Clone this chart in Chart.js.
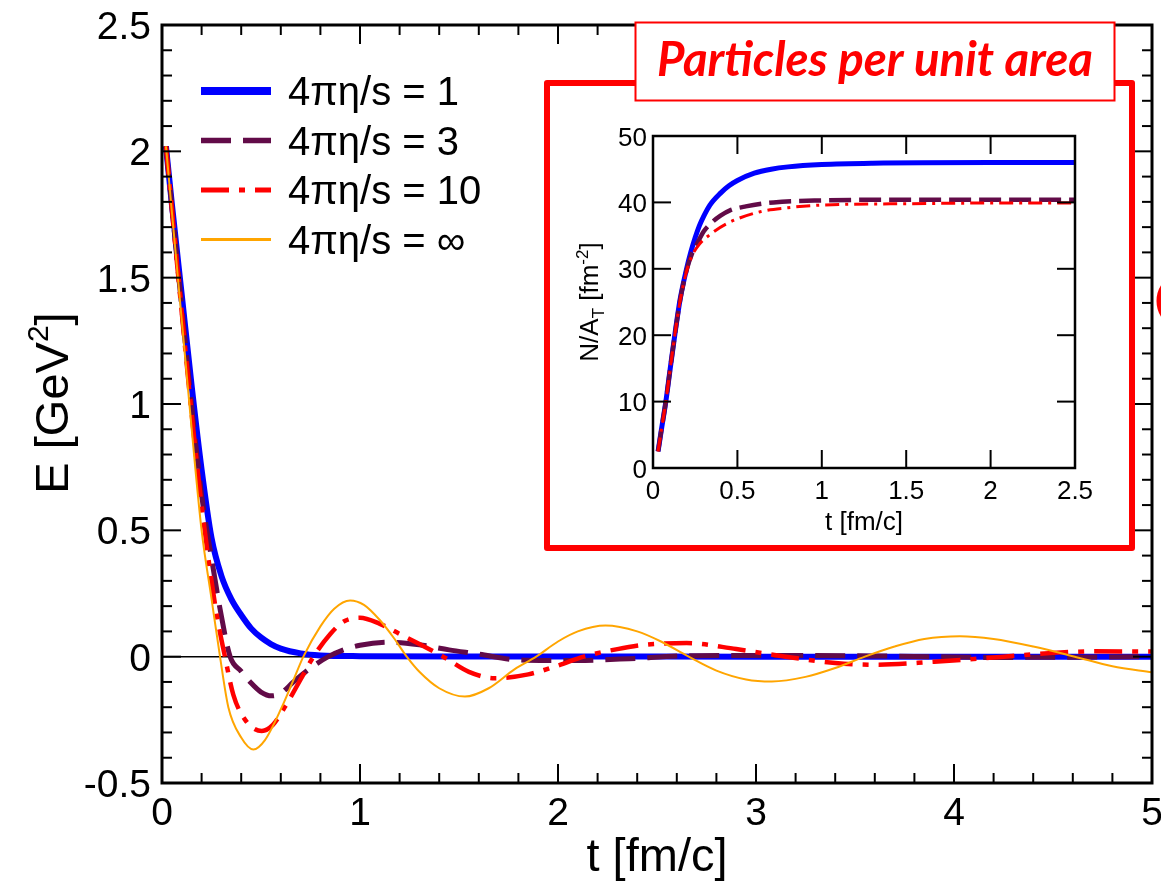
<!DOCTYPE html>
<html>
<head>
<meta charset="utf-8">
<script src="https://cdn.jsdelivr.net/npm/chart.js@4.4.1/dist/chart.umd.min.js"></script>
<style>
html,body{margin:0;padding:0;background:#fff;}
#wrap{position:relative;width:1161px;height:881px;overflow:hidden;}
#wrap canvas{position:absolute;left:0;top:0;}
</style>
</head>
<body>
<div id="wrap">
<canvas id="main" width="1161" height="881"></canvas>
<canvas id="inset" width="1161" height="881"></canvas>
</div>
<script>
// ---------------- data ----------------
const seriesLabels = ['4πη/s = 1', '4πη/s = 3', '4πη/s = 10', '4πη/s = ∞'];

// main panel: E [GeV^2] vs t [fm/c]
const tEta1 = [0.02,0.05,0.1,0.15,0.2,0.25,0.3,0.35,0.4,0.45,0.5,0.55,0.6,0.7,0.8,1.0,1.5,2.0,3.0,4.0,5.0];
const eEta1 = [2.02,1.79,1.43,1.07,0.74,0.47,0.32,0.228,0.165,0.112,0.076,0.05,0.032,0.013,0.005,0.002,0.001,0.001,0.0,0.0,0.0];

const tEta3 = [0.02,0.05,0.1,0.15,0.2,0.25,0.3,0.344,0.4,0.445,0.5,0.554,0.6,0.664,0.75,0.84,0.92,1.0,1.15,1.3,1.45,1.6,1.77,1.95,2.1,2.36,2.61,2.86,3.2,3.7,4.2,4.6,5.0];
const eEta3 = [2.02,1.78,1.38,0.99,0.64,0.39,0.16,0,-0.058,-0.1,-0.14,-0.155,-0.145,-0.1,-0.045,0,0.028,0.045,0.057,0.047,0.027,0.01,-0.011,-0.015,-0.015,-0.008,0.003,0.005,0.005,0.002,-0.003,-0.002,0];

const tEta10 = [0.02,0.05,0.1,0.15,0.2,0.25,0.28,0.318,0.36,0.42,0.504,0.56,0.62,0.7,0.765,0.85,0.92,1.0,1.1,1.2,1.3,1.42,1.55,1.68,1.85,2.0,2.13,2.3,2.45,2.65,2.9,3.15,3.4,3.61,3.9,4.25,4.5,4.71,5.0];
const eEta10 = [2.02,1.77,1.36,0.96,0.6,0.3,0.15,0,-0.15,-0.25,-0.294,-0.27,-0.2,-0.09,0,0.09,0.14,0.154,0.13,0.09,0.05,0,-0.06,-0.085,-0.07,-0.035,0,0.03,0.048,0.054,0.03,0,-0.025,-0.032,-0.02,0,0.015,0.021,0.02];

const tEtaInf = [0.02,0.05,0.1,0.15,0.2,0.25,0.293,0.335,0.4,0.461,0.52,0.605,0.66,0.714,0.8,0.87,0.95,1.02,1.1,1.17,1.236,1.3,1.4,1.53,1.65,1.78,1.89,2.0,2.1,2.24,2.4,2.52,2.66,2.8,2.95,3.08,3.25,3.4,3.55,3.7,3.85,4.03,4.2,4.4,4.61,4.8,5.0];
const eEtaInf = [2.02,1.76,1.33,0.9,0.5,0.23,0,-0.2,-0.32,-0.367,-0.33,-0.2,-0.1,0,0.12,0.19,0.2225,0.205,0.145,0.075,0,-0.06,-0.125,-0.158,-0.125,-0.05,0,0.06,0.1,0.123,0.1,0.06,0,-0.055,-0.09,-0.098,-0.08,-0.045,0,0.04,0.07,0.081,0.07,0.04,0,-0.038,-0.062];

const mainXTickValues = [0,1,2,3,4,5];
const mainXTickLabels = ['0','1','2','3','4','5'];
const mainYTickValues = [-0.5,0,0.5,1,1.5,2,2.5];
const mainYTickLabels = ['-0.5','0','0.5','1','1.5','2','2.5'];

// inset panel: N/A_T [fm^-2] vs t [fm/c]
const insetTEta1 = [0.03,0.05,0.076,0.1,0.129,0.16,0.199,0.225,0.25,0.275,0.3,0.337,0.4,0.45,0.5,0.6,0.7,0.8,1.0,1.3,2.0,2.5];
const insetNEta1 = [2.5,5.8,10,14.6,20,25.3,30,32.6,34.7,36.5,37.9,39.6,41.4,42.5,43.3,44.4,45.0,45.35,45.7,45.9,46,46];
const insetTEta3 = [0.03,0.05,0.076,0.1,0.129,0.16,0.199,0.23,0.258,0.3,0.35,0.4,0.456,0.55,0.714,1.0,1.5,2.0,2.5];
const insetNEta3 = [2.5,5.8,10,14.6,20,25.2,29.8,32.2,33.6,35.6,37.0,38.0,38.8,39.4,40.0,40.3,40.4,40.4,40.4];
const insetTEta10 = [0.03,0.05,0.076,0.1,0.129,0.16,0.199,0.23,0.278,0.33,0.437,0.635,0.8,1.0,1.5,2.0,2.5];
const insetNEta10 = [2.5,5.8,10,14.6,20,25.1,29.6,31.9,33.8,35.0,36.8,38.6,39.2,39.6,39.8,39.9,39.9];

const insetXTickValues = [0,0.5,1,1.5,2,2.5];
const insetXTickLabels = ['0','0.5','1','1.5','2','2.5'];
const insetYTickValues = [0,10,20,30,40,50];
const insetYTickLabels = ['0','10','20','30','40','50'];

const insetTitle = 'Particles per unit area';

// ---------------- styles ----------------
const COL_BLUE = '#0000ff', COL_PURPLE = '#620b48', COL_RED = '#ff0000', COL_ORANGE = '#ffa500';
const FONT = '"Liberation Sans", Arial, Helvetica, sans-serif';

function pts(xs, ys) { return xs.map((x, i) => ({ x: x, y: ys[i] })); }
function seg(c, x1, y1, x2, y2) { c.beginPath(); c.moveTo(x1, y1); c.lineTo(x2, y2); c.stroke(); }

const lineDefaults = { pointRadius: 0, fill: false, cubicInterpolationMode: 'monotone', borderCapStyle: 'butt', borderJoinStyle: 'round' };

// ---------------- main chart ----------------
const mainDecor = {
  id: 'mainDecor',
  beforeDraw(chart) {
    const c = chart.ctx;
    c.save(); c.fillStyle = '#fff'; c.fillRect(0, 0, chart.width, chart.height); c.restore();
  },
  beforeDatasetsDraw(chart) {
    const c = chart.ctx, a = chart.chartArea, y0 = chart.scales.y.getPixelForValue(0);
    c.save(); c.strokeStyle = '#000'; c.lineWidth = 1.5; seg(c, a.left, y0, a.right, y0); c.restore();
  },
  afterDatasetsDraw(chart) {
    const c = chart.ctx, a = chart.chartArea, xs = chart.scales.x, ys = chart.scales.y;
    c.save();
    c.strokeStyle = '#000';
    c.lineWidth = 2;
    for (let k = 0; k <= 25; k++) {
      const px = xs.getPixelForValue(k * 0.2);
      const len = (k % 5 === 0) ? 19 : 10;
      seg(c, px, a.bottom, px, a.bottom - len);
      seg(c, px, a.top, px, a.top + len);
    }
    for (let k = 0; k <= 30; k++) {
      const py = ys.getPixelForValue(-0.5 + k * 0.1);
      const len = (k % 5 === 0) ? 19 : 10;
      seg(c, a.left, py, a.left + len, py);
      seg(c, a.right, py, a.right - len, py);
    }
    c.lineWidth = 3;
    c.strokeRect(a.left, a.top, a.right - a.left, a.bottom - a.top);

    c.fillStyle = '#000';
    c.font = '39px ' + FONT;
    c.textBaseline = 'alphabetic';
    c.textAlign = 'right';
    mainYTickValues.forEach((v, i) => {
      const py = ys.getPixelForValue(v);
      c.fillText(mainYTickLabels[i], a.left - 11, py + 14);
    });
    c.textAlign = 'center';
    mainXTickValues.forEach((v, i) => {
      const px = xs.getPixelForValue(v);
      c.fillText(mainXTickLabels[i], px, 825);
    });

    c.font = '47px ' + FONT;
    c.fillText('t [fm/c]', (a.left + a.right) / 2, 871);

    c.save();
    c.translate(68, 403);
    c.rotate(-Math.PI / 2);
    c.textAlign = 'left';
    const big = '47px ' + FONT, small = '30px ' + FONT;
    c.font = big; const w1 = c.measureText('E [GeV').width; const w3 = c.measureText(']').width;
    c.font = small; const w2 = c.measureText('2').width;
    let x0 = -(w1 + w2 + w3) / 2;
    c.font = big; c.fillText('E [GeV', x0, 0);
    c.font = small; c.fillText('2', x0 + w1, -20);
    c.font = big; c.fillText(']', x0 + w1 + w2, 0);
    c.restore();

    // legend (in dataset order)
    c.font = '40px ' + FONT;
    c.textAlign = 'left';
    chart.data.datasets.forEach((ds, i) => {
      const ly = 91 + i * 49.5;
      c.save();
      c.strokeStyle = ds.borderColor;
      c.lineWidth = ds.legendWidth;
      c.setLineDash(ds.borderDash || []);
      seg(c, 201, ly, 271, ly);
      c.restore();
      c.fillStyle = '#000';
      c.fillText(ds.label, 288, ly + 14);
    });
    c.restore();
  }
};

new Chart(document.getElementById('main'), {
  type: 'line',
  data: {
    datasets: [
      Object.assign({ label: seriesLabels[0], data: pts(tEta1, eEta1), borderColor: COL_BLUE, borderWidth: 6, legendWidth: 8, order: 4 }, lineDefaults),
      Object.assign({ label: seriesLabels[1], data: pts(tEta3, eEta3), borderColor: COL_PURPLE, borderWidth: 5, legendWidth: 5.5, borderDash: [30, 12], order: 3 }, lineDefaults),
      Object.assign({ label: seriesLabels[2], data: pts(tEta10, eEta10), borderColor: COL_RED, borderWidth: 4.5, legendWidth: 5, borderDash: [28, 10, 6, 10], order: 2 }, lineDefaults),
      Object.assign({ label: seriesLabels[3], data: pts(tEtaInf, eEtaInf), borderColor: COL_ORANGE, borderWidth: 2, legendWidth: 3, order: 1 }, lineDefaults)
    ]
  },
  options: {
    responsive: false,
    animation: false,
    devicePixelRatio: 1,
    events: [],
    layout: { padding: { left: 162, right: 9, top: 25, bottom: 98 } },
    plugins: { legend: { display: false }, tooltip: { enabled: false } },
    scales: {
      x: { type: 'linear', min: 0, max: 5, display: false },
      y: { type: 'linear', min: -0.5, max: 2.5, display: false }
    }
  },
  plugins: [mainDecor]
});

// ---------------- inset chart ----------------
const insetDecor = {
  id: 'insetDecor',
  beforeDraw(chart) {
    const c = chart.ctx;
    c.save();
    c.fillStyle = '#fff';
    c.fillRect(547, 83, 585, 465);
    c.strokeStyle = COL_RED;
    c.lineWidth = 6;
    c.lineJoin = 'round';
    c.strokeRect(547, 83, 585, 465);
    c.lineWidth = 5;
    c.beginPath(); c.arc(1186, 301, 27, 0, Math.PI * 2); c.stroke();
    c.restore();
  },
  afterDatasetsDraw(chart) {
    const c = chart.ctx, a = chart.chartArea, xs = chart.scales.x, ys = chart.scales.y;
    c.save();
    c.strokeStyle = '#000';
    c.lineWidth = 2;
    insetXTickValues.forEach(v => {
      const px = xs.getPixelForValue(v);
      seg(c, px, a.bottom, px, a.bottom - 18);
      seg(c, px, a.top, px, a.top + 18);
    });
    insetYTickValues.forEach(v => {
      const py = ys.getPixelForValue(v);
      seg(c, a.left, py, a.left + 18, py);
      seg(c, a.right, py, a.right - 18, py);
    });
    c.lineWidth = 2.5;
    c.strokeRect(a.left, a.top, a.right - a.left, a.bottom - a.top);

    c.fillStyle = '#000';
    c.font = '26px ' + FONT;
    c.textAlign = 'right';
    insetYTickValues.forEach((v, i) => {
      c.fillText(insetYTickLabels[i], a.left - 6, ys.getPixelForValue(v) + 9.5);
    });
    c.textAlign = 'center';
    insetXTickValues.forEach((v, i) => {
      c.fillText(insetXTickLabels[i], xs.getPixelForValue(v), 499);
    });
    c.fillText('t [fm/c]', (a.left + a.right) / 2, 530);

    c.save();
    c.translate(598, 302);
    c.rotate(-Math.PI / 2);
    c.textAlign = 'left';
    const big = '26px ' + FONT, small = '17px ' + FONT;
    const parts = [['N/A', big, 0], ['T', small, 6], [' [fm', big, 0], ['-2', small, -10], [']', big, 0]];
    let total = 0;
    parts.forEach(p => { c.font = p[1]; total += c.measureText(p[0]).width; });
    let x0 = -total / 2;
    parts.forEach(p => { c.font = p[1]; c.fillText(p[0], x0, p[2]); x0 += c.measureText(p[0]).width; });
    c.restore();

    c.fillStyle = '#fff';
    c.fillRect(635.5, 22.5, 479, 78);
    c.strokeStyle = COL_RED;
    c.lineWidth = 2;
    c.strokeRect(635.5, 22.5, 479, 78);
    c.fillStyle = COL_RED;
    c.font = 'italic bold 40px Lato, "Open Sans", sans-serif';
    const tw = c.measureText(insetTitle).width;
    const fs = 40 * 436 / tw;
    c.font = 'italic bold ' + fs.toFixed(2) + 'px Lato, "Open Sans", sans-serif';
    c.textAlign = 'center';
    c.fillText(insetTitle, 875, 76);
    c.restore();
  }
};

new Chart(document.getElementById('inset'), {
  type: 'line',
  data: {
    datasets: [
      Object.assign({ label: seriesLabels[0], data: pts(insetTEta1, insetNEta1), borderColor: COL_BLUE, borderWidth: 5, order: 3 }, lineDefaults),
      Object.assign({ label: seriesLabels[1], data: pts(insetTEta3, insetNEta3), borderColor: COL_PURPLE, borderWidth: 4.5, borderDash: [22, 8], order: 2 }, lineDefaults),
      Object.assign({ label: seriesLabels[2], data: pts(insetTEta10, insetNEta10), borderColor: COL_RED, borderWidth: 3, borderDash: [14, 6, 3, 6], order: 1 }, lineDefaults)
    ]
  },
  options: {
    responsive: false,
    animation: false,
    devicePixelRatio: 1,
    events: [],
    layout: { padding: { left: 653, right: 86, top: 136, bottom: 413 } },
    plugins: { legend: { display: false }, tooltip: { enabled: false } },
    scales: {
      x: { type: 'linear', min: 0, max: 2.5, display: false },
      y: { type: 'linear', min: 0, max: 50, display: false }
    }
  },
  plugins: [insetDecor]
});
</script>
</body>
</html>
